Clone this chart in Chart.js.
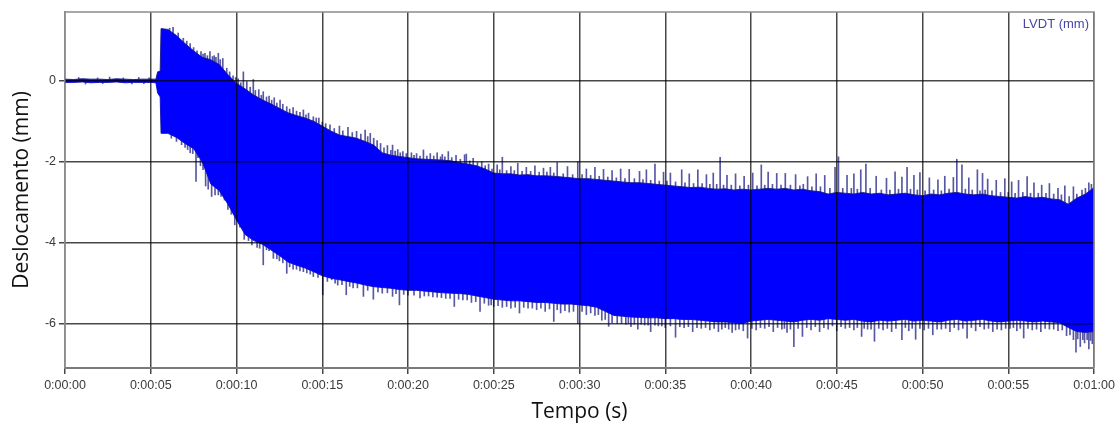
<!DOCTYPE html>
<html lang="pt">
<head>
<meta charset="UTF-8">
<title>LVDT (mm)</title>
<style>
  body { margin: 0; background: #fff; }
</style>
</head>
<body>
<canvas id="grafico" width="1119" height="425"></canvas>

<script src="https://cdn.jsdelivr.net/npm/chart.js@4.4.1/dist/chart.umd.min.js"></script>
<script>
// instantes das amostras da envoltória (s)
const tempo = [
  0, 0.5, 1, 1.5, 2, 2.5, 3, 3.5, 4, 4.5, 5, 5.3, 5.4, 5.55, 5.6,
  6, 6.5, 7, 7.5, 8, 8.5, 9, 9.5, 10, 10.5, 11, 11.5, 12, 12.5, 13, 13.5, 14, 14.5,
  15, 15.5, 16, 16.5, 17, 17.5, 18, 18.5, 19, 19.5, 20, 20.5, 21, 21.5, 22, 22.5,
  23, 23.5, 24, 24.5, 25, 25.5, 26, 26.5, 27, 27.5, 28, 28.5, 29, 29.5, 30, 30.5,
  31, 31.5, 32, 32.5, 33, 33.5, 34, 34.5, 35, 35.5, 36, 36.5, 37, 37.5, 38, 38.5,
  39, 39.5, 40, 40.5, 41, 41.5, 42, 42.5, 43, 43.5, 44, 44.5, 45, 45.5, 46, 46.5,
  47, 47.5, 48, 48.5, 49, 49.5, 50, 50.5, 51, 51.5, 52, 52.5, 53, 53.5, 54, 54.5,
  55, 55.5, 56, 56.5, 57, 57.5, 58, 58.5, 59, 59.5, 60
];

// limite superior do sinal (mm)
const envSuperior = [
  0.04, 0.03, 0.05, 0.04, 0.04, 0.03, 0.05, 0.04, 0.03, 0.04, 0.04, 0.04, 0.22, 0.24, 1.29,
  1.27, 1.12, 0.92, 0.74, 0.58, 0.52, 0.40, 0.15, -0.06, -0.20, -0.35, -0.47, -0.57, -0.68, -0.79, -0.86, -0.92, -1.00,
  -1.12, -1.24, -1.34, -1.38, -1.42, -1.50, -1.59, -1.78, -1.84, -1.87, -1.90, -1.93, -1.94, -1.95, -1.96, -1.98,
  -2.02, -2.06, -2.10, -2.18, -2.28, -2.30, -2.30, -2.33, -2.32, -2.35, -2.35, -2.36, -2.38, -2.40, -2.42, -2.42,
  -2.44, -2.46, -2.48, -2.50, -2.52, -2.52, -2.54, -2.56, -2.58, -2.60, -2.62, -2.64, -2.63, -2.66, -2.68, -2.67,
  -2.70, -2.68, -2.70, -2.68, -2.66, -2.68, -2.66, -2.70, -2.68, -2.72, -2.74, -2.80, -2.76, -2.78, -2.80, -2.76,
  -2.80, -2.78, -2.82, -2.80, -2.78, -2.82, -2.84, -2.80, -2.82, -2.78, -2.76, -2.80, -2.82, -2.80, -2.84, -2.86,
  -2.88, -2.90, -2.86, -2.90, -2.88, -2.92, -2.94, -3.05, -2.90, -2.80, -2.64
];

// limite inferior do sinal (mm)
const envInferior = [
  -0.04, -0.04, -0.03, -0.05, -0.04, -0.04, -0.03, -0.05, -0.04, -0.04, -0.04, -0.05, -0.30, -0.40, -1.30,
  -1.30, -1.40, -1.55, -1.68, -2.00, -2.55, -2.72, -3.05, -3.44, -3.80, -3.95, -4.04, -4.18, -4.32, -4.48, -4.56, -4.63, -4.72,
  -4.82, -4.88, -4.92, -4.96, -5.00, -5.05, -5.09, -5.11, -5.13, -5.16, -5.18, -5.18, -5.20, -5.22, -5.24, -5.25,
  -5.26, -5.28, -5.32, -5.36, -5.40, -5.42, -5.44, -5.44, -5.46, -5.48, -5.48, -5.50, -5.52, -5.52, -5.54, -5.56,
  -5.60, -5.70, -5.80, -5.82, -5.84, -5.85, -5.86, -5.86, -5.88, -5.88, -5.90, -5.90, -5.92, -5.94, -5.96, -5.96,
  -5.98, -6.00, -5.94, -5.92, -5.90, -5.92, -5.94, -5.96, -5.92, -5.90, -5.92, -5.88, -5.90, -5.92, -5.90, -5.94,
  -5.96, -5.92, -5.94, -5.92, -5.90, -5.94, -5.92, -5.94, -5.96, -5.92, -5.90, -5.94, -5.92, -5.90, -5.94, -5.96,
  -5.94, -5.92, -5.94, -5.96, -5.94, -5.96, -5.98, -6.10, -6.20, -6.22, -6.20
];

// picos isolados acima do sinal: [tempo (s), valor (mm)]
const picosSup = [
  [0.8, 0.08], [1.9, 0.07], [2.6, 0.09], [3.4, 0.07], [4.3, 0.08], [4.9, 0.07],
  [6.3, 1.32], [6.9, 1.05], [7.3, 0.92], [7.7, 0.74], [7.93, 0.72], [8.16, 0.68], [8.45, 0.72], [8.7, 0.62],
  [8.94, 0.68], [9.2, 0.55], [9.43, 0.31], [9.8, 0.12], [10.1, 0.05], [10.4, 0.22], [10.6, -0.02], [10.98, 0.03],
  [11.3, -0.22], [11.56, -0.27], [11.9, -0.38], [12.2, -0.42], [12.54, -0.48], [12.93, -0.64], [13.3, -0.66],
  [13.9, -0.72], [14.2, -0.80], [14.48, -0.89], [14.8, -0.92], [15.45, -1.09], [16.0, -1.12], [16.5, -1.15],
  [17.0, -1.25], [17.5, -1.22], [17.8, -1.30], [18.0, -1.42], [18.4, -1.55], [18.8, -1.60], [19.1, -1.59],
  [19.4, -1.70], [19.7, -1.75], [20.2, -1.78], [20.5, -1.80], [20.9, -1.71], [21.3, -1.80], [21.7, -1.78],
  [22.0, -1.82], [22.35, -1.75], [22.8, -1.84], [23.3, -1.83], [23.4, -1.81], [23.8, -1.92], [24.3, -2.00],
  [24.7, -2.06], [25.2, -2.08], [25.5, -1.89], [26.0, -2.12], [26.4, -2.04], [26.9, -2.14], [27.4, -2.10],
  [27.9, -2.16], [28.3, -2.14], [28.7, -2.02], [29.3, -2.12], [29.9, -2.00], [30.4, -2.18], [30.9, -2.14],
  [31.4, -2.19], [31.9, -2.22], [32.4, -2.18], [32.9, -2.19], [33.5, -2.24], [33.9, -2.20], [34.4, -2.06],
  [34.9, -2.26], [35.3, -2.28], [35.96, -2.20], [36.4, -2.30], [36.9, -2.20], [37.4, -2.32], [37.8, -2.28],
  [38.2, -1.89], [38.6, -2.34], [39.1, -2.30], [39.6, -2.36], [40.1, -2.28], [40.6, -2.08], [41.0, -2.26],
  [41.5, -2.29], [42.0, -2.29], [42.6, -2.32], [43.3, -2.37], [43.8, -2.30], [44.3, -2.34], [44.9, -2.14],
  [45.1, -1.88], [45.6, -2.34], [46.0, -2.30], [46.4, -2.20], [46.7, -2.06], [47.3, -2.36], [47.9, -2.41],
  [48.4, -2.25], [48.8, -2.38], [49.1, -2.14], [49.5, -2.34], [49.85, -2.27], [50.4, -2.40], [50.9, -2.45],
  [51.3, -2.36], [51.8, -2.39], [52.0, -1.94], [52.3, -2.08], [52.7, -2.40], [53.2, -2.20], [53.5, -2.29],
  [53.8, -2.43], [54.3, -2.46], [54.8, -2.42], [55.2, -2.50], [55.6, -2.46], [56.1, -2.37], [56.5, -2.52],
  [56.95, -2.58], [57.4, -2.54], [57.9, -2.66], [58.3, -2.60], [58.8, -2.62], [59.3, -2.70], [59.7, -2.52]
];

// picos curtos que formam o serrilhado da borda superior
const picosSupMenores = [
  [6.1, 1.30], [6.6, 1.18], [7.1, 0.98], [7.5, 0.82], [8.05, 0.66], [8.3, 0.62], [8.6, 0.60], [8.8, 0.58],
  [9.05, 0.52], [9.6, 0.22], [9.95, 0.08], [10.25, -0.05], [10.8, -0.16], [11.1, -0.24], [11.45, -0.36],
  [11.75, -0.40], [12.05, -0.48], [12.35, -0.55], [12.7, -0.58], [13.1, -0.70], [13.5, -0.75], [13.7, -0.78],
  [14.05, -0.84], [14.65, -0.92], [15.0, -1.02], [15.2, -1.06], [15.7, -1.18], [16.2, -1.24], [16.75, -1.28],
  [17.25, -1.32], [17.65, -1.38], [18.2, -1.48], [18.6, -1.66], [19.0, -1.72], [19.25, -1.74], [19.55, -1.78],
  [19.9, -1.80], [20.35, -1.84], [20.7, -1.86], [21.1, -1.86], [21.5, -1.86], [21.9, -1.88], [22.15, -1.88],
  [22.55, -1.90], [23.05, -1.94], [23.6, -1.98], [24.05, -2.02], [24.5, -2.10], [24.9, -2.18], [25.35, -2.20],
  [25.75, -2.22], [26.2, -2.22], [26.65, -2.24], [27.15, -2.24], [27.65, -2.26], [28.1, -2.26], [28.5, -2.28],
  [29.05, -2.30], [29.6, -2.32], [30.15, -2.32], [30.65, -2.34], [31.15, -2.36], [31.65, -2.38], [32.15, -2.40],
  [32.65, -2.42], [33.2, -2.42], [33.7, -2.44], [34.15, -2.46], [34.65, -2.48], [35.1, -2.48], [35.6, -2.50],
  [36.15, -2.52], [36.65, -2.54], [37.15, -2.54], [37.6, -2.56], [38.0, -2.56], [38.4, -2.58], [38.85, -2.58],
  [39.35, -2.60], [39.85, -2.58], [40.35, -2.60], [40.8, -2.58], [41.25, -2.56], [41.75, -2.58], [42.3, -2.58],
  [42.85, -2.60], [43.05, -2.56], [43.55, -2.62], [44.05, -2.62], [44.6, -2.66], [45.35, -2.66], [45.85, -2.66],
  [46.2, -2.68], [46.95, -2.66], [47.6, -2.70], [48.1, -2.70], [48.6, -2.68], [49.3, -2.68], [49.7, -2.70],
  [50.15, -2.72], [50.65, -2.70], [51.1, -2.72], [51.55, -2.68], [52.5, -2.68], [52.9, -2.70], [53.35, -2.72],
  [53.65, -2.70], [54.05, -2.72], [54.55, -2.76], [55.0, -2.76], [55.4, -2.78], [55.85, -2.76], [56.3, -2.78],
  [56.75, -2.78], [57.2, -2.78], [57.65, -2.80], [58.1, -2.82], [58.55, -2.86], [59.0, -2.80], [59.5, -2.66],
  [59.85, -2.56]
];

// picos isolados abaixo do sinal: [tempo (s), valor (mm)]
const picosInf = [
  [1.2, -0.08], [2.2, -0.07], [3.9, -0.08], [4.6, -0.07],
  [6.5, -1.50], [7.0, -1.65], [7.3, -1.78], [7.64, -2.49], [7.9, -2.10], [8.2, -2.60], [8.55, -2.86],
  [8.94, -2.82], [9.3, -2.95], [9.7, -3.30], [10.2, -3.62], [10.7, -3.95], [11.2, -4.12], [11.56, -4.55],
  [11.9, -4.20], [12.15, -4.39], [12.5, -4.45], [12.93, -4.76], [13.3, -4.66], [13.7, -4.70], [14.1, -4.75],
  [14.48, -4.84], [15.03, -5.29], [15.55, -4.92], [15.9, -5.05], [16.4, -5.29], [16.8, -5.12], [17.4, -5.33],
  [17.98, -5.40], [18.5, -5.25], [19.1, -5.33], [19.5, -5.54], [20.0, -5.30], [20.7, -5.37], [21.2, -5.32],
  [21.7, -5.35], [22.2, -5.38], [22.7, -5.58], [23.2, -5.42], [23.7, -5.48], [24.2, -5.70], [24.7, -5.55],
  [25.0, -5.58], [25.5, -5.60], [26.0, -5.62], [26.5, -5.74], [27.0, -5.62], [27.5, -5.66], [28.0, -5.70],
  [28.5, -5.95], [28.9, -5.74], [29.4, -5.72], [29.9, -6.00], [30.4, -5.78], [30.9, -5.80], [31.3, -5.92],
  [31.7, -6.07], [32.2, -6.00], [32.7, -6.02], [33.0, -6.08], [33.4, -6.14], [33.8, -6.04], [34.15, -6.20],
  [34.6, -6.06], [35.0, -6.10], [35.6, -6.34], [36.1, -6.10], [36.6, -6.20], [37.1, -6.12], [37.6, -6.16],
  [38.1, -6.20], [38.5, -6.10], [38.9, -6.22], [39.3, -6.14], [39.8, -6.36], [40.3, -6.16], [40.8, -6.12],
  [41.3, -6.20], [41.8, -6.14], [42.1, -6.22], [42.5, -6.57], [43.0, -6.32], [43.5, -6.16], [44.0, -6.20],
  [44.5, -6.14], [45.0, -6.18], [45.5, -6.12], [46.0, -6.16], [46.45, -6.32], [46.8, -6.14], [47.2, -6.44],
  [47.7, -6.16], [48.2, -6.20], [48.8, -6.40], [49.2, -6.18], [49.6, -6.39], [50.1, -6.16], [50.6, -6.28],
  [51.1, -6.14], [51.6, -6.20], [52.1, -6.16], [52.6, -6.36], [53.1, -6.18], [53.6, -6.14], [54.1, -6.20],
  [54.6, -6.16], [55.1, -6.12], [55.5, -6.18], [55.9, -6.36], [56.4, -6.16], [56.9, -6.20], [57.4, -6.14],
  [57.9, -6.18], [58.4, -6.30], [58.8, -6.40], [58.95, -6.71], [59.2, -6.57], [59.45, -6.48], [59.7, -6.63],
  [59.9, -6.50]
];

// picos curtos que formam o serrilhado da borda inferior
const picosInfMenores = [
  [6.2, -1.42], [6.8, -1.58], [7.15, -1.70], [7.45, -1.80], [7.75, -1.90], [8.05, -2.20], [8.35, -2.68],
  [8.75, -2.82], [9.1, -2.86], [9.5, -3.18], [9.9, -3.56], [10.45, -3.92], [10.9, -4.06], [11.35, -4.14],
  [11.75, -4.18], [12.35, -4.40], [12.7, -4.50], [13.1, -4.60], [13.5, -4.66], [13.9, -4.72], [14.3, -4.78],
  [14.75, -4.86], [15.3, -4.96], [15.75, -5.00], [16.15, -5.04], [16.6, -5.08], [17.05, -5.12], [17.65, -5.18],
  [18.25, -5.22], [18.8, -5.24], [19.3, -5.26], [19.75, -5.28], [20.35, -5.30], [20.95, -5.32], [21.45, -5.34],
  [21.95, -5.36], [22.45, -5.38], [22.95, -5.40], [23.45, -5.42], [23.95, -5.46], [24.45, -5.50], [24.85, -5.54],
  [25.25, -5.56], [25.75, -5.58], [26.25, -5.60], [26.75, -5.60], [27.25, -5.62], [27.75, -5.62], [28.25, -5.64],
  [28.7, -5.66], [29.15, -5.68], [29.65, -5.70], [30.15, -5.70], [30.65, -5.74], [31.1, -5.78], [31.5, -5.90],
  [31.9, -5.98], [32.45, -6.00], [32.85, -6.00], [33.2, -6.02], [33.6, -6.02], [34.0, -6.04], [34.4, -6.04],
  [34.8, -6.06], [35.3, -6.06], [35.85, -6.08], [36.35, -6.08], [36.85, -6.10], [37.35, -6.10], [37.85, -6.12],
  [38.3, -6.14], [38.7, -6.14], [39.1, -6.16], [39.55, -6.18], [40.05, -6.12], [40.55, -6.10], [41.05, -6.08],
  [41.55, -6.10], [41.95, -6.12], [42.3, -6.14], [42.75, -6.12], [43.25, -6.10], [43.75, -6.08], [44.25, -6.10],
  [44.75, -6.06], [45.25, -6.08], [45.75, -6.10], [46.2, -6.10], [46.6, -6.12], [47.0, -6.14], [47.45, -6.12],
  [47.95, -6.12], [48.45, -6.12], [49.0, -6.10], [49.4, -6.12], [49.85, -6.12], [50.35, -6.12], [50.85, -6.14],
  [51.35, -6.12], [51.85, -6.10], [52.35, -6.12], [52.85, -6.10], [53.35, -6.08], [53.85, -6.12], [54.35, -6.14],
  [54.85, -6.12], [55.3, -6.10], [55.7, -6.12], [56.15, -6.12], [56.65, -6.14], [57.15, -6.12], [57.65, -6.14],
  [58.15, -6.16], [58.6, -6.28], [59.05, -6.38], [59.35, -6.40], [59.6, -6.40], [59.8, -6.42]
];

const rotulo = 'LVDT (mm)';

// centro da banda na amostra mais próxima, usado como base dos picos
function meioBanda(t) {
  let k = 0;
  for (let i = 1; i < tempo.length; i++) {
    if (Math.abs(tempo[i] - t) < Math.abs(tempo[k] - t)) k = i;
  }
  return (envSuperior[k] + envInferior[k]) / 2;
}

function barrasPico(lista) {
  return lista.map(([t, v]) => ({ x: t, y: [meioBanda(t), v] }));
}

function hms(v) {
  const h = Math.floor(v / 3600);
  const m = Math.floor((v % 3600) / 60);
  const s = Math.round(v % 60);
  return h + ':' + String(m).padStart(2, '0') + ':' + String(s).padStart(2, '0');
}

const corSinal = '#0000ff';
const corBorda = 'rgba(25, 25, 135, 0.9)';
const corPico = 'rgba(45, 45, 140, 0.8)';
const fonteTicks = { family: '"Liberation Sans", Arial, sans-serif', size: 12.5 };
const fonteTitulo = { family: '"Open Sans", sans-serif', size: 21 };

// moldura superior/direita e o rótulo da série dentro da área do gráfico
const moldura = {
  id: 'moldura',
  afterDraw(chart) {
    const { ctx, chartArea: a } = chart;
    ctx.save();
    ctx.strokeStyle = '#8c8c8c';
    ctx.lineWidth = 1.5;
    ctx.beginPath();
    ctx.moveTo(a.left, a.top);
    ctx.lineTo(a.right, a.top);
    ctx.lineTo(a.right, a.bottom);
    ctx.stroke();
    ctx.font = '13px "Liberation Sans", Arial, sans-serif';
    ctx.fillStyle = '#4646a6';
    ctx.textAlign = 'right';
    ctx.textBaseline = 'middle';
    ctx.fillText(chart.data.datasets[0].label, a.right - 5, a.top + 12);
    ctx.restore();
  }
};

const ctx = document.getElementById('grafico');
const chart = new Chart(ctx, {
  type: 'line',
  data: {
    datasets: [
      {
        label: rotulo,
        data: tempo.map((t, i) => ({ x: t, y: envSuperior[i] })),
        borderColor: corBorda,
        borderWidth: 1,
        backgroundColor: corSinal,
        fill: '+1',
        pointRadius: 0,
        tension: 0,
        order: 0
      },
      {
        label: rotulo + ' min',
        data: tempo.map((t, i) => ({ x: t, y: envInferior[i] })),
        borderColor: corBorda,
        borderWidth: 1,
        fill: false,
        pointRadius: 0,
        tension: 0,
        order: 0
      },
      {
        type: 'bar',
        label: 'picos sup',
        data: barrasPico(picosSup.concat(picosSupMenores)),
        backgroundColor: corPico,
        barThickness: 1,
        grouped: false,
        order: 1
      },
      {
        type: 'bar',
        label: 'picos inf',
        data: barrasPico(picosInf.concat(picosInfMenores)),
        backgroundColor: corPico,
        barThickness: 1,
        grouped: false,
        order: 1
      }
    ]
  },
  options: {
    responsive: false,
    animation: false,
    events: [],
    layout: { padding: { top: 12, right: 25, left: 0, bottom: 0 } },
    plugins: {
      legend: { display: false },
      tooltip: { enabled: false }
    },
    scales: {
      x: {
        type: 'linear',
        min: 0,
        max: 60,
        offset: false,
        grid: { color: 'rgba(0, 0, 0, 0.72)', lineWidth: 1.5, tickLength: 6, offset: false, z: 1 },
        border: { color: '#7a7a7a', width: 2, z: 1 },
        ticks: {
          stepSize: 5,
          autoSkip: false,
          maxRotation: 0,
          padding: 4,
          color: '#3a3a3a',
          font: fonteTicks,
          callback: v => hms(v)
        },
        title: { display: true, text: 'Tempo (s)', color: '#111', font: fonteTitulo, padding: { top: 0, bottom: 0 } },
        afterFit: s => { s.height = 57; }
      },
      y: {
        min: -7.1,
        max: 1.7,
        grid: { color: 'rgba(0, 0, 0, 0.72)', lineWidth: 1.5, tickLength: 6, z: 1 },
        border: { color: '#8c8c8c', width: 1.5, z: 1 },
        ticks: {
          stepSize: 2,
          includeBounds: false,
          padding: 3,
          color: '#3a3a3a',
          font: fonteTicks
        },
        title: { display: true, text: 'Deslocamento (mm)', color: '#111', font: fonteTitulo, padding: { top: 9, bottom: 0 } },
        afterFit: s => { s.width = 65; }
      }
    }
  },
  plugins: [moldura]
});
</script>
</body>
</html>
